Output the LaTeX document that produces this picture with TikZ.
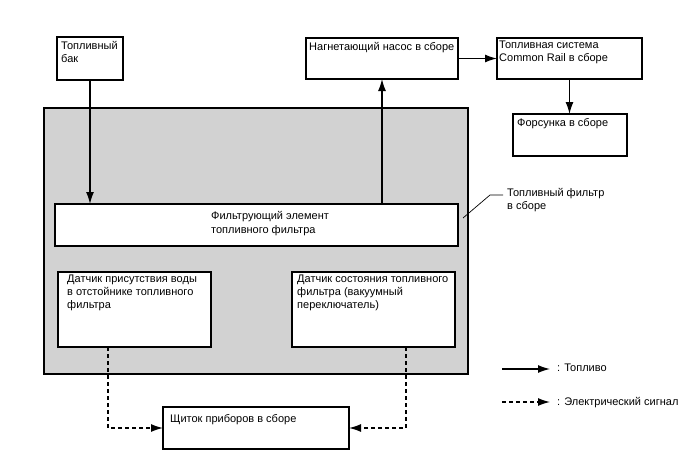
\documentclass[tikz,border=0pt]{standalone}
\usepackage{fontspec}
\setmainfont{Liberation Sans}
\usetikzlibrary{arrows.meta}
\definecolor{filtergray}{RGB}{210,210,210}
\begin{document}
\begin{tikzpicture}[x=1pt,y=-1pt,
  box/.style={draw, line width=1.3pt, fill=white, anchor=north west, inner sep=0pt, outer sep=0pt},
  txt/.style={anchor=north west, inner sep=0pt, align=left, font=\fontsize{11}{12.7}\selectfont},
  flow/.style={line width=1.3pt, -{Latex[length=12pt,width=8pt]}},
  signal/.style={line width=1.3pt, dash pattern=on 4pt off 3pt, -{Latex[length=12pt,width=8pt]}}]
\path[fill=white] (0,0) rectangle (688,463);
\useasboundingbox (0,0) rectangle (688,463);
% boxes
\node[box, fill=filtergray, minimum width=424pt, minimum height=266pt] (filter) at (44,108) {};
\node[box, minimum width=66pt, minimum height=43pt] (tank) at (57,37) {};
\node[box, minimum width=403pt, minimum height=42pt] (elem) at (55,204) {};
\node[box, minimum width=153pt, minimum height=75pt] (water) at (58,272) {};
\node[box, minimum width=163pt, minimum height=75pt] (vac) at (292,272) {};
\node[box, minimum width=152pt, minimum height=41pt] (pump) at (306,38) {};
\node[box, minimum width=145pt, minimum height=41pt] (cr) at (497,38) {};
\node[box, minimum width=114pt, minimum height=42pt] (inj) at (513,114) {};
\node[box, minimum width=186pt, minimum height=42pt] (panel) at (163,407) {};
% texts
\node[txt] (ttank) at (61,41) {Топливный\\бак};
\node[txt] (tpump) at (309,42) {Нагнетающий насос в сборе};
\node[txt] (tcr) at (499,41) {Топливная система\\Common Rail в сборе};
\node[txt] (tinj) at (517,118) {Форсунка в сборе};
\node[txt] (telem) at (211,211) {Фильтрующий элемент\\[1pt]топливного фильтра};
\node[txt] (twater) at (67,275) {Датчик присутствия воды\\в отстойнике топливного\\фильтра};
\node[txt] (tvac) at (297,275) {Датчик состояния топливного\\фильтра (вакуумный\\переключатель)};
\node[txt] (tpanel) at (170,414) {Щиток приборов в сборе};
\node[txt] (flabel) at (507,188) {Топливный фильтр\\в сборе};
\node[txt] (leg1) at (557,364) {: Топливо};
\node[txt] (leg2) at (557,397) {: Электрический сигнал};
% connectors
\draw[flow] (tank.south) -- (tank.south |- elem.north);
\draw[flow] (pump.south |- elem.north) -- (pump.south);
\draw[flow] (pump.east) -- (cr.west);
\draw[flow] (cr.south) -- (cr.south |- inj.north);
\draw[signal] ([xshift=-26.5pt]water.south) |- (panel.west);
\draw[signal] ([xshift=32.5pt]vac.south) |- (panel.east);
% leader
\coordinate (lead) at (463,218);
\coordinate (bend) at (490,195);
\draw[line width=0.7pt] (lead) -- (bend) -- ([xshift=-4pt]bend -| flabel.west);
% legend
\coordinate (l1) at (502,369);
\coordinate (l2) at (502,402);
\draw[flow] (l1) -- ([xshift=-7pt]l1 -| leg1.west);
\draw[signal] (l2) -- ([xshift=-7pt]l2 -| leg2.west);
\end{tikzpicture}
\end{document}
